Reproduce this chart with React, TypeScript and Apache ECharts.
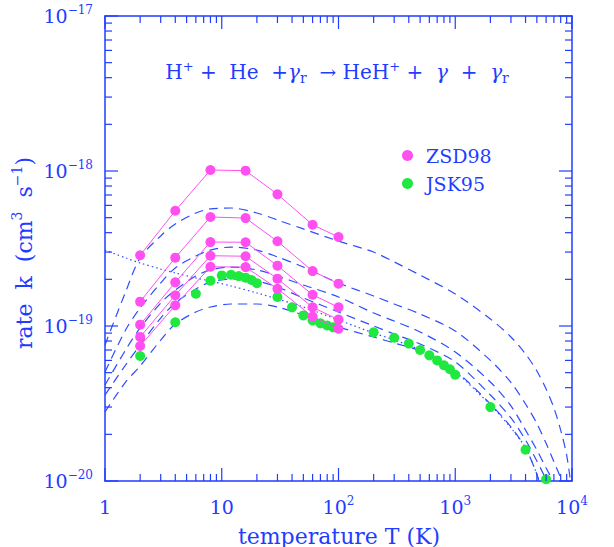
import React, { useEffect, useRef } from 'react';
import * as echarts from 'echarts';

// ---------- data ----------
const ZSD_T = [2, 4, 8, 16, 30, 60, 100];
const ZSD_1 = [2.86e-19, 5.54e-19, 1.015e-18, 1.005e-18, 7.07e-19, 4.5e-19, 3.75e-19];
const ZSD_2 = [1.435e-19, 2.76e-19, 5.05e-19, 4.97e-19, 3.52e-19, 2.26e-19, 1.875e-19];
const ZSD_3 = [1.02e-19, 1.913e-19, 3.48e-19, 3.47e-19, 2.45e-19, 1.59e-19, 1.32e-19];
const ZSD_4 = [8.5e-20, 1.58e-19, 2.84e-19, 2.82e-19, 2.02e-19, 1.32e-19, 1.1e-19];
const ZSD_5 = [7.43e-20, 1.36e-19, 2.41e-19, 2.4e-19, 1.74e-19, 1.15e-19, 9.6e-20];

const JSK_T = [2, 4, 6, 8, 10, 12, 14, 16, 18, 20, 30, 40, 50, 60, 70, 80, 90, 200, 300, 400, 500, 600, 700, 800, 900, 1000, 2000, 4000, 6000];
const JSK_K = [6.4e-20, 1.057e-19, 1.615e-19, 1.96e-19, 2.12e-19, 2.14e-19, 2.1e-19, 2.05e-19, 1.98e-19, 1.89e-19, 1.54e-19, 1.32e-19, 1.17e-19, 1.085e-19, 1.04e-19, 1.007e-19, 9.8e-20, 9.1e-20, 8.4e-20, 7.7e-20, 7.0e-20, 6.47e-20, 6.0e-20, 5.58e-20, 5.26e-20, 4.85e-20, 3.0e-20, 1.59e-20, 1.026e-20];

const FIT1_T = [1, 1.5, 2, 3, 4, 6, 8, 12, 20, 30, 50, 100, 200, 300, 500, 1000, 2000, 3000, 4000, 5000, 6000, 7000, 8000, 9000, 9700];
const FIT1_K = [7.54e-20, 1.657e-19, 2.75e-19, 3.81e-19, 4.55e-19, 5.36e-19, 5.69e-19, 5.77e-19, 5.36e-19, 4.83e-19, 4.23e-19, 3.53e-19, 3.0e-19, 2.59e-19, 2.13e-19, 1.61e-19, 1.11e-19, 8.49e-20, 6.6e-20, 5.13e-20, 3.92e-20, 2.96e-20, 2.13e-20, 1.47e-20, 1.0e-20];
const FIT2_T = [1, 1.5, 2, 3, 4, 6, 8, 12, 20, 30, 50, 100, 200, 300, 500, 1000, 2000, 3000, 4000, 5000, 6000, 7000, 8000, 8200];
const FIT2_K = [5.05e-20, 9.42e-20, 1.306e-19, 1.894e-19, 2.37e-19, 2.83e-19, 3.09e-19, 3.23e-19, 3.09e-19, 2.79e-19, 2.4e-19, 1.894e-19, 1.562e-19, 1.387e-19, 1.195e-19, 9.28e-20, 6.0e-20, 4.32e-20, 3.14e-20, 2.35e-20, 1.75e-20, 1.33e-20, 1.05e-20, 1.0e-20];
const FIT3_T = [1, 1.5, 2, 3, 4, 6, 8, 12, 20, 30, 50, 100, 200, 300, 500, 1000, 2000, 3000, 4000, 5000, 6000, 6900];
const FIT3_K = [4.16e-20, 7.0e-20, 9.71e-20, 1.407e-19, 1.707e-19, 2.1e-19, 2.3e-19, 2.4e-19, 2.3e-19, 2.1e-19, 1.839e-19, 1.539e-19, 1.213e-19, 1.077e-19, 9.15e-20, 6.8e-20, 4.35e-20, 3.05e-20, 2.13e-20, 1.585e-20, 1.213e-20, 1.0e-20];
const FIT4_T = [1, 1.5, 2, 3, 4, 6, 8, 12, 20, 30, 50, 100, 200, 300, 500, 1000, 2000, 3000, 4000, 5000, 6100];
const FIT4_K = [3.59e-20, 5.6e-20, 7.54e-20, 1.126e-19, 1.407e-19, 1.733e-19, 1.92e-19, 2.01e-19, 1.95e-19, 1.785e-19, 1.516e-19, 1.231e-19, 1.0e-19, 8.88e-20, 7.65e-20, 5.86e-20, 3.59e-20, 2.55e-20, 1.839e-20, 1.346e-20, 1.0e-20];
const FIT5_T = [1, 1.5, 2, 3, 4, 6, 8, 12, 20, 30, 50, 100, 200, 300, 500, 1000, 2000, 3000, 4000, 5000, 5200];
const FIT5_K = [2.79e-20, 4.35e-20, 5.52e-20, 8.12e-20, 1.03e-19, 1.231e-19, 1.326e-19, 1.387e-19, 1.387e-19, 1.326e-19, 1.178e-19, 9.85e-20, 8.49e-20, 7.77e-20, 6.9e-20, 5.13e-20, 3.14e-20, 2.23e-20, 1.633e-20, 1.11e-20, 1.0e-20];
const DOT_T = [1, 1.5, 2, 3, 4, 6, 8, 12, 20, 30, 50, 100, 200, 300, 500, 1000, 2000, 3000, 4000, 5000, 5200];
const DOT_K = [3.09e-19, 2.75e-19, 2.55e-19, 2.33e-19, 2.2e-19, 2.04e-19, 1.95e-19, 1.812e-19, 1.633e-19, 1.494e-19, 1.326e-19, 1.093e-19, 9.01e-20, 8.12e-20, 7.0e-20, 5.05e-20, 3.09e-20, 2.2e-20, 1.633e-20, 1.11e-20, 1.0e-20];

const X_MIN = 1;
const X_MAX = 10000;
const Y_MIN = 1e-20;
const Y_MAX = 1e-17;
const X_DECADES = [1, 10, 100, 1000, 10000];
const Y_DECADES = [1e-20, 1e-19, 1e-18, 1e-17];
const MINOR_MULT = [2, 3, 4, 5, 6, 7, 8, 9];
const X_LABEL_BASE = ['1', '10', '10', '10', '10'];
const X_LABEL_EXP = ['', '', '2', '3', '4'];
const Y_LABEL_BASE = ['10', '10', '10', '10'];
const Y_LABEL_EXP = ['\u221220', '\u221219', '\u221218', '\u221217'];

// ---------- style ----------
const BLUE = '#1f3dff';
const DASH_BLUE = '#2f4cff';
const PINK = '#ff4ff0';
const GREEN = '#1fe83f';
const FONT = '"DejaVu Serif", serif';

const mkRich = (size: number, sup: number) => ({
  b: { fontSize: size, fontFamily: FONT, color: BLUE, fill: BLUE, lineHeight: Math.round(size * 1.26) },
  s: { fontSize: sup, fontFamily: FONT, color: BLUE, fill: BLUE, lineHeight: sup, verticalAlign: 'top' },
  u: { fontSize: sup + 1, fontFamily: FONT, color: BLUE, fill: BLUE, lineHeight: sup + 1, verticalAlign: 'bottom' },
  g: { fontSize: size, fontFamily: FONT, color: BLUE, fill: BLUE, lineHeight: Math.round(size * 1.26), fontStyle: 'italic' },
});
const RICH: any = mkRich(19, 12);
const RICH_TITLE: any = mkRich(20, 13);
const RICH_AXIS: any = mkRich(22, 14);

const pairs = (xs: number[], ys: number[]) => xs.map((x, i) => [x, ys[i]]);

const buildTicks = (decades: number[], max: number) => {
  const out: number[][] = [];
  decades.forEach((d) => {
    out.push([d, 1]);
    MINOR_MULT.forEach((m) => {
      if (d * m < max) out.push([d * m, 0]);
    });
  });
  return out;
};

export default function App() {
  const ref = useRef<HTMLDivElement>(null);

  useEffect(() => {
    if (!ref.current) return;
    const chart = echarts.init(ref.current, undefined, { renderer: 'svg' });

    const xTicks = buildTicks(X_DECADES, X_MAX * 1.0001);
    const yTicks = buildTicks(Y_DECADES, Y_MAX * 1.0001);

    const fitStyle = (data: number[][], dash: number[]) => ({
      type: 'line',
      data,
      symbol: 'none',
      smooth: 0.3,
      silent: true,
      z: 2,
      lineStyle: { color: DASH_BLUE, width: 1.2, type: dash },
    });

    const zsd = (ys: number[]) => ({
      name: 'ZSD98',
      type: 'line',
      data: pairs(ZSD_T, ys),
      symbol: 'circle',
      symbolSize: 10,
      z: 4,
      itemStyle: { color: PINK },
      lineStyle: { color: PINK, width: 1 },
    });

    const option: any = {
      animation: false,
      backgroundColor: '#ffffff',
      grid: { left: 105, right: 42, top: 16, bottom: 66 },
      legend: {
        data: ['ZSD98', 'JSK95'],
        orient: 'vertical',
        left: 397,
        top: 141,
        icon: 'circle',
        itemWidth: 11,
        itemHeight: 11,
        itemGap: 9,
        selectedMode: false,
        textStyle: { color: BLUE, fontSize: 19, fontFamily: FONT, padding: [0, 0, 0, 8] },
      },
      xAxis: [
        {
          type: 'log',
          logBase: 10,
          min: X_MIN,
          max: X_MAX,
          splitNumber: 4,
          position: 'bottom',
          axisLine: { lineStyle: { color: BLUE, width: 1.5 } },
          axisTick: { show: false },
          minorTick: { show: false },
          splitLine: { show: false },
          axisLabel: {
            margin: 14,
            formatter: (v: number) => {
              const i = Math.round(Math.log10(v));
              const e = X_LABEL_EXP[i];
              return e ? `{b|${X_LABEL_BASE[i]}}{s|${e}}` : `{b|${X_LABEL_BASE[i]}}`;
            },
            rich: RICH,
          },
        },
        {
          type: 'log',
          logBase: 10,
          min: X_MIN,
          max: X_MAX,
          position: 'top',
          axisLine: { lineStyle: { color: BLUE, width: 1.5 } },
          axisTick: { show: false },
          axisLabel: { show: false },
          splitLine: { show: false },
        },
      ],
      yAxis: [
        {
          type: 'log',
          logBase: 10,
          min: Y_MIN,
          max: Y_MAX,
          splitNumber: 3,
          position: 'left',
          axisLine: { lineStyle: { color: BLUE, width: 1.5 } },
          axisTick: { show: false },
          minorTick: { show: false },
          splitLine: { show: false },
          axisLabel: {
            margin: 12,
            formatter: (v: number) => {
              const i = Math.round(Math.log10(v)) + 20;
              return `{b|${Y_LABEL_BASE[i]}}{s|${Y_LABEL_EXP[i]}}`;
            },
            rich: RICH,
          },
        },
        {
          type: 'log',
          logBase: 10,
          min: Y_MIN,
          max: Y_MAX,
          position: 'right',
          axisLine: { lineStyle: { color: BLUE, width: 1.5 } },
          axisTick: { show: false },
          axisLabel: { show: false },
          splitLine: { show: false },
        },
      ],
      graphic: [
        {
          type: 'text',
          x: 337,
          y: 72,
          style: {
            text: '{b|H}{s|+}{b| +  He  +}{g|γ}{u|r}{b|  → HeH}{s|+}{b| +  }{g|γ}{b|  +  }{g|γ}{u|r}',
            rich: RICH_TITLE,
            fill: BLUE,
            align: 'center',
            verticalAlign: 'middle',
          },
        },
        {
          type: 'text',
          x: 339,
          y: 536,
          style: {
            text: '{b|temperature T (K)}',
            rich: RICH_AXIS,
            fill: BLUE,
            align: 'center',
            verticalAlign: 'middle',
          },
        },
        {
          type: 'text',
          x: 24,
          y: 253,
          rotation: Math.PI / 2,
          style: {
            text: '{b|rate  k  (cm}{s|3}{b|  s}{s|\u22121}{b|)}',
            rich: RICH_AXIS,
            fill: BLUE,
            align: 'center',
            verticalAlign: 'middle',
          },
        },
      ],
      series: [
        fitStyle(pairs(FIT1_T, FIT1_K), [9, 6]),
        fitStyle(pairs(FIT2_T, FIT2_K), [9, 6]),
        fitStyle(pairs(FIT3_T, FIT3_K), [9, 6]),
        fitStyle(pairs(FIT4_T, FIT4_K), [9, 6]),
        fitStyle(pairs(FIT5_T, FIT5_K), [9, 6]),
        fitStyle(pairs(DOT_T, DOT_K), [1.5, 3]),
        {
          name: 'JSK95',
          type: 'line',
          data: pairs(JSK_T, JSK_K),
          symbol: 'circle',
          symbolSize: 10,
          z: 3,
          itemStyle: { color: GREEN },
          lineStyle: { width: 0, opacity: 0 },
        },
        zsd(ZSD_1),
        zsd(ZSD_2),
        zsd(ZSD_3),
        zsd(ZSD_4),
        zsd(ZSD_5),
        {
          type: 'custom',
          silent: true,
          clip: false,
          z: 10,
          data: xTicks.map((t) => [t[0], Y_MIN, t[1]]),
          encode: { x: 0, y: 1 },
          renderItem: (_p: any, api: any) => {
            const v = api.value(0);
            const len = api.value(2) === 1 ? 13 : 7;
            const b = api.coord([v, Y_MIN]);
            const t = api.coord([v, Y_MAX]);
            return {
              type: 'group',
              children: [
                { type: 'line', shape: { x1: b[0], y1: b[1], x2: b[0], y2: b[1] - len }, style: { stroke: BLUE, lineWidth: 1.2 } },
                { type: 'line', shape: { x1: t[0], y1: t[1], x2: t[0], y2: t[1] + len }, style: { stroke: BLUE, lineWidth: 1.2 } },
              ],
            };
          },
        },
        {
          type: 'custom',
          silent: true,
          clip: false,
          z: 10,
          data: yTicks.map((t) => [X_MIN, t[0], t[1]]),
          encode: { x: 0, y: 1 },
          renderItem: (_p: any, api: any) => {
            const v = api.value(1);
            const len = api.value(2) === 1 ? 13 : 7;
            const l = api.coord([X_MIN, v]);
            const r = api.coord([X_MAX, v]);
            return {
              type: 'group',
              children: [
                { type: 'line', shape: { x1: l[0], y1: l[1], x2: l[0] + len, y2: l[1] }, style: { stroke: BLUE, lineWidth: 1.2 } },
                { type: 'line', shape: { x1: r[0], y1: r[1], x2: r[0] - len, y2: r[1] }, style: { stroke: BLUE, lineWidth: 1.2 } },
              ],
            };
          },
        },
      ],
    };

    chart.setOption(option);
    return () => chart.dispose();
  }, []);

  return (
    <div
      ref={ref}
      style={{ position: 'fixed', left: 0, top: 0, width: 614, height: 547, background: '#fff' }}
    />
  );
}
